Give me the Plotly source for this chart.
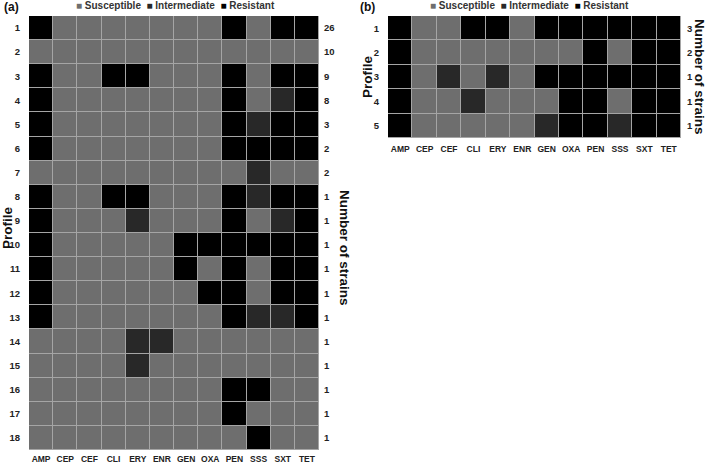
import plotly.graph_objects as go

antibiotics = ["AMP", "CEP", "CEF", "CLI", "ERY", "ENR", "GEN", "OXA", "PEN", "SSS", "SXT", "TET"]
categories = ["Susceptible", "Intermediate", "Resistant"]
cat_colors = ["#6e6e6e", "#282828", "#000000"]

# 0 = Susceptible, 1 = Intermediate, 2 = Resistant
profiles_a = list(range(1, 19))
matrix_a = [
    [2, 0, 0, 0, 0, 0, 0, 0, 2, 0, 2, 2],
    [0, 0, 0, 0, 0, 0, 0, 0, 0, 0, 0, 0],
    [2, 0, 0, 2, 2, 0, 0, 0, 2, 0, 2, 2],
    [2, 0, 0, 0, 0, 0, 0, 0, 2, 0, 1, 2],
    [2, 0, 0, 0, 0, 0, 0, 0, 2, 1, 2, 2],
    [2, 0, 0, 0, 0, 0, 0, 0, 2, 2, 2, 2],
    [0, 0, 0, 0, 0, 0, 0, 0, 0, 1, 0, 0],
    [2, 0, 0, 2, 2, 0, 0, 0, 2, 1, 2, 2],
    [2, 0, 0, 0, 1, 0, 0, 0, 2, 0, 1, 2],
    [2, 0, 0, 0, 0, 0, 2, 2, 2, 2, 2, 2],
    [2, 0, 0, 0, 0, 0, 2, 0, 2, 0, 2, 2],
    [2, 0, 0, 0, 0, 0, 0, 2, 2, 0, 2, 2],
    [2, 0, 0, 0, 0, 0, 0, 0, 2, 1, 1, 2],
    [0, 0, 0, 0, 1, 1, 0, 0, 0, 0, 0, 0],
    [0, 0, 0, 0, 1, 0, 0, 0, 0, 0, 0, 0],
    [0, 0, 0, 0, 0, 0, 0, 0, 2, 2, 0, 0],
    [0, 0, 0, 0, 0, 0, 0, 0, 2, 0, 0, 0],
    [0, 0, 0, 0, 0, 0, 0, 0, 0, 2, 0, 0],
]
strains_a = [26, 10, 9, 8, 3, 2, 2, 1, 1, 1, 1, 1, 1, 1, 1, 1, 1, 1]

profiles_b = list(range(1, 6))
matrix_b = [
    [2, 0, 0, 2, 2, 0, 2, 2, 2, 2, 2, 2],
    [2, 0, 0, 0, 0, 0, 0, 0, 2, 0, 2, 2],
    [2, 0, 1, 0, 1, 0, 2, 2, 2, 2, 2, 2],
    [2, 0, 0, 1, 0, 0, 0, 2, 2, 0, 2, 2],
    [2, 0, 0, 0, 0, 0, 1, 2, 2, 1, 2, 2],
]
strains_b = [3, 2, 1, 1, 1]

W, H = 709, 464
FONT = "Liberation Sans"

colorscale = [
    [0.0, cat_colors[0]], [1 / 3, cat_colors[0]],
    [1 / 3, cat_colors[1]], [2 / 3, cat_colors[1]],
    [2 / 3, cat_colors[2]], [1.0, cat_colors[2]],
]

fig = go.Figure()

fig.add_trace(go.Heatmap(
    z=matrix_a, x=antibiotics, y=profiles_a, xaxis="x", yaxis="y",
    colorscale=colorscale, zmin=0, zmax=2, showscale=False,
    xgap=1, ygap=1, hoverinfo="skip"))
fig.add_trace(go.Scatter(x=[None] * len(profiles_a), y=profiles_a, xaxis="x", yaxis="y3",
                         mode="markers", showlegend=False, hoverinfo="skip"))

fig.add_trace(go.Heatmap(
    z=matrix_b, x=antibiotics, y=profiles_b, xaxis="x2", yaxis="y2",
    colorscale=colorscale, zmin=0, zmax=2, showscale=False,
    xgap=1, ygap=1, hoverinfo="skip"))
fig.add_trace(go.Scatter(x=[None] * len(profiles_b), y=profiles_b, xaxis="x2", yaxis="y4",
                         mode="markers", showlegend=False, hoverinfo="skip"))

# panel geometry in pixels (left, right, top, bottom)
ax_a = (29, 319, 16, 450)
ax_b = (388, 681, 16, 138)

def xd(p):
    return [p[0] / W, p[1] / W]

def yd(p):
    return [1 - p[3] / H, 1 - p[2] / H]

tickfont_small = dict(family=FONT, size=8.5, color="#222", weight="bold")
tickfont_row = dict(family=FONT, size=9.5, color="#222", weight="bold")

def xaxis_cfg(dom, anchor, ticklen):
    return dict(domain=dom, anchor=anchor, showgrid=False, zeroline=False, showline=False,
                ticks="outside", ticklen=ticklen, tickcolor="rgba(0,0,0,0)",
                tickfont=tickfont_small, automargin=False)

def yaxis_cfg(dom, anchor, n, vals, text, side="left", overlay=None, ticklen=4):
    d = dict(anchor=anchor, side=side, range=[n + 0.5, 0.5], tickvals=vals, ticktext=text,
             showgrid=False, zeroline=False, showline=False, ticks="outside",
             ticklen=ticklen, tickcolor="rgba(0,0,0,0)", tickfont=tickfont_row,
             automargin=False)
    if overlay:
        d["overlaying"] = overlay
    else:
        d["domain"] = dom
    return d

fig.update_layout(
    width=W, height=H,
    margin=dict(l=0, r=0, t=0, b=0),
    paper_bgcolor="white",
    plot_bgcolor="#a5a5a5",
    showlegend=False,
    xaxis=xaxis_cfg(xd(ax_a), "y", 1),
    yaxis=yaxis_cfg(yd(ax_a), "x", len(profiles_a), profiles_a,
                    [str(p) for p in profiles_a], ticklen=6),
    yaxis3=yaxis_cfg(None, "x", len(profiles_a), profiles_a,
                     [str(s) for s in strains_a], side="right", overlay="y", ticklen=2),
    xaxis2=xaxis_cfg(xd(ax_b), "y2", 3),
    yaxis2=yaxis_cfg(yd(ax_b), "x2", len(profiles_b), profiles_b,
                     [str(p) for p in profiles_b], ticklen=6),
    yaxis4=yaxis_cfg(None, "x2", len(profiles_b), profiles_b,
                     [str(s) for s in strains_b], side="right", overlay="y2", ticklen=3),
)

legend_text = "  ".join(
    f"<span style='color:{c}'>■</span> {n}" for n, c in zip(categories, cat_colors))

for txt, px in [("(a)", 2), ("(b)", 358)]:
    fig.add_annotation(text=txt, x=px / W, y=1 - 7 / H, xref="paper", yref="paper",
                       xanchor="left", yanchor="middle", showarrow=False,
                       font=dict(family=FONT, size=12, color="#111", weight="bold"))

for cx, cy in [(175, 5), (529, 5)]:
    fig.add_annotation(text=legend_text, x=cx / W, y=1 - cy / H, xref="paper", yref="paper",
                       xanchor="center", yanchor="middle", showarrow=False,
                       font=dict(family=FONT, size=10, color="#333", weight="bold"))

title_font = dict(family=FONT, size=13.5, color="#111", weight="bold")
for txt, cx, cy, ang in [("Profile", 7, 228, -90), ("Number of strains", 344, 248, 90),
                         ("Profile", 367, 77, -90), ("Number of strains", 700, 77, 90)]:
    fig.add_annotation(text=txt, x=cx / W, y=1 - cy / H, xref="paper", yref="paper",
                       xanchor="center", yanchor="middle", showarrow=False, textangle=ang,
                       font=title_font)

fig.write_html("out.html", config={"displayModeBar": False},
               post_script="document.body.style.margin='0';document.body.style.overflow='hidden';")
